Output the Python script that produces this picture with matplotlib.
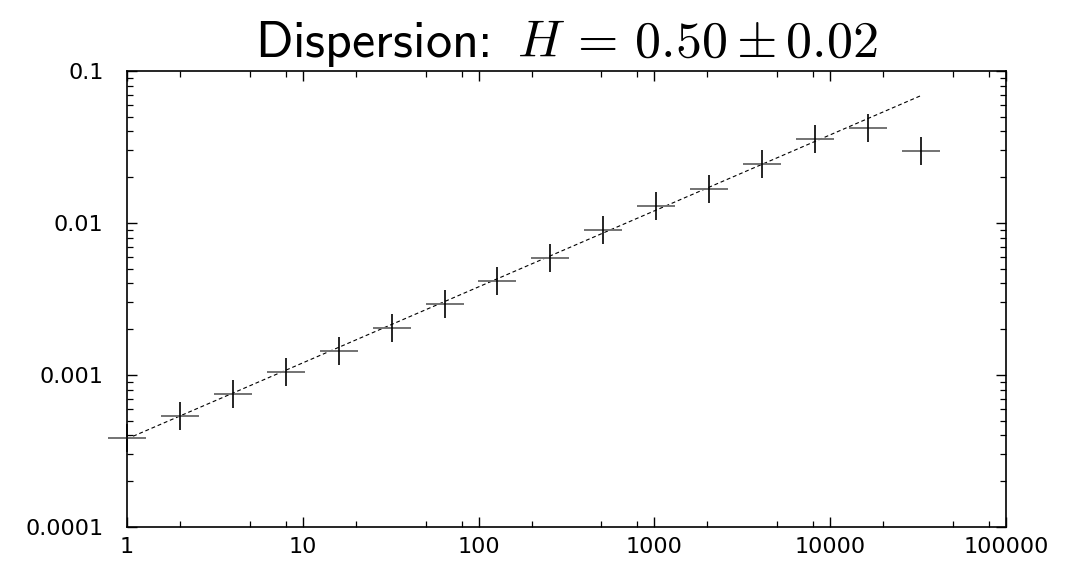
import matplotlib
matplotlib.use('Agg')
import matplotlib.pyplot as plt
import matplotlib.ticker as ticker
import numpy as np

params = {'font.family': 'DejaVu Sans',
          'mathtext.fontset': 'cm',
          'xtick.direction': 'in',
          'ytick.direction': 'in',
          'xtick.top': True,
          'ytick.right': True,
          'axes.linewidth': 1.2,
          }
plt.rcParams.update(params)

###  DATA  ###

n_steps = [1, 2, 4, 8, 16, 32, 64, 128, 256, 512, 1024, 2048, 4096, 8192, 16384, 32768]
dispersion = [3.84e-4, 5.40e-4, 7.53e-4, 1.05e-3, 1.445e-3, 2.05e-3, 2.93e-3, 4.17e-3,
              5.91e-3, 9.04e-3, 1.29e-2, 1.68e-2, 2.45e-2, 3.57e-2, 4.24e-2, 2.98e-2]

# fitted power law, end points
fit_x = [1, 32768]
fit_y = [3.8e-4, 6.88e-2]

x_ticks = [1, 10, 100, 1000, 10000, 100000]
x_labels = ['1', '10', '100', '1000', '10000', '100000']
y_ticks = [0.0001, 0.001, 0.01, 0.1]
y_labels = ['0.0001', '0.001', '0.01', '0.1']

###  PLOT  ###

fig = plt.figure(figsize=(10.83, 5.62), dpi=100)
ax = fig.add_axes([0.1173, 0.0623, 0.8116, 0.8114])

ax.plot(fit_x, fit_y, color='k', lw=0.8, dashes=(3.5, 2.5), zorder=2)
ax.plot(n_steps, dispersion, ls='none', marker='_', markersize=28, mew=1.4,
        color='0.45', clip_on=False, zorder=3)
ax.plot(n_steps, dispersion, ls='none', marker='|', markersize=20.5, mew=1.2,
        color='k', clip_on=False, zorder=4)

ax.set_xscale('log')
ax.set_yscale('log')
ax.set_xlim(1, 100000)
ax.set_ylim(0.0001, 0.1)

ax.xaxis.set_major_locator(ticker.FixedLocator(x_ticks))
ax.xaxis.set_major_formatter(ticker.FixedFormatter(x_labels))
ax.xaxis.set_minor_locator(ticker.LogLocator(base=10, subs=(2, 5, 8), numticks=20))
ax.xaxis.set_minor_formatter(ticker.NullFormatter())
ax.yaxis.set_major_locator(ticker.FixedLocator(y_ticks))
ax.yaxis.set_major_formatter(ticker.FixedFormatter(y_labels))
ax.yaxis.set_minor_locator(ticker.LogLocator(base=10, subs=np.arange(2, 10), numticks=20))
ax.yaxis.set_minor_formatter(ticker.NullFormatter())

ax.tick_params(which='major', length=7, width=1.0, labelsize=16)
ax.tick_params(which='minor', length=4, width=0.9)
ax.tick_params(axis='y', which='major', pad=17)
ax.tick_params(axis='x', which='major', pad=7)

ax.set_title(r'Dispersion: $\,H\,=\,0.50 \pm 0.02$', family='cmss10',
             fontsize=37.5, pad=10)

fig.savefig('out.png', dpi=100)
